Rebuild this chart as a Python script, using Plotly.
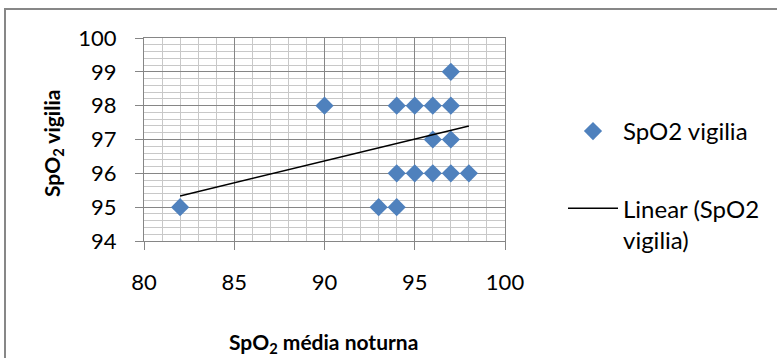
import plotly.graph_objects as go

# Data
spo2_noturna = [82, 90, 94, 95, 96, 97, 97, 96, 97, 94, 95, 96, 97, 98, 93, 94]
spo2_vigilia = [95, 98, 98, 98, 98, 98, 99, 97, 97, 96, 96, 96, 96, 96, 95, 95]
trend_x = [82, 98]
trend_y = [95.33, 97.40]

x_ticks = [80, 85, 90, 95, 100]
y_ticks = [94, 95, 96, 97, 98, 99, 100]

FONT = "Lato"
W, H = 777, 358
L, R, T, B = 144, 272, 38, 117
pw, ph = W - L - R, H - T - B

def px(x):
    return (x - L) / pw

def py(y):
    return (H - B - y) / ph

fig = go.Figure()
fig.add_trace(go.Scatter(
    x=spo2_noturna, y=spo2_vigilia, mode="markers", name="SpO2 vigilia",
    marker=dict(symbol="diamond", size=14, color="#4F81BD", line=dict(width=0)),
    legendgroup="a",
))
fig.add_trace(go.Scatter(
    x=trend_x, y=trend_y, mode="lines", name="Linear (SpO2<br>vigilia)",
    line=dict(color="black", width=1.5), legendgroup="b",
))

axis_common = dict(
    showline=True, linecolor="#868686", linewidth=1, mirror=True,
    ticks="outside", ticklen=8, tickcolor="#868686", tickwidth=1,
    showgrid=True, gridcolor="#868686", gridwidth=1,
    tickfont=dict(family=FONT, size=22, color="black"),
    zeroline=False,
)

fig.update_xaxes(range=[80, 100], tickvals=x_ticks, ticklabelstandoff=14,
                 minor=dict(dtick=1, showgrid=True, gridcolor="#c8c8c8", gridwidth=1, ticks=""),
                 **axis_common)
fig.update_yaxes(range=[94, 100], tickvals=y_ticks, ticklabelstandoff=14,
                 minor=dict(dtick=0.2, showgrid=True, gridcolor="#c8c8c8", gridwidth=1, ticks=""),
                 **axis_common)

fig.update_layout(
    width=W, height=H,
    margin=dict(l=L, r=R, t=T, b=B, autoexpand=False),
    paper_bgcolor="white", plot_bgcolor="white",
    font=dict(family=FONT, size=22, color="black"),
    showlegend=True,
    legend=dict(x=px(563), y=py(109), xanchor="left", yanchor="top",
                font=dict(family=FONT, size=24, color="black"),
                itemwidth=50, tracegroupgap=43, valign="top",
                bgcolor="rgba(0,0,0,0)"),
    annotations=[
        dict(text="<b>SpO<sub>2</sub> média noturna</b>", xref="paper", yref="paper",
             x=px(323), y=py(343), xanchor="center", yanchor="middle", showarrow=False,
             font=dict(family=FONT, size=21, color="black")),
        dict(text="<b>SpO<sub>2</sub> vigilia</b>", xref="paper", yref="paper",
             x=px(53), y=py(144), xanchor="center", yanchor="middle", showarrow=False,
             textangle=-90, font=dict(family=FONT, size=21, color="black")),
    ],
    shapes=[
        dict(type="rect", xref="paper", yref="paper", x0=px(5), x1=px(800),
             y0=py(380), y1=py(9), line=dict(color="#878787", width=2),
             fillcolor="rgba(0,0,0,0)", layer="below"),
    ],
)

fig.write_html("out.html")
